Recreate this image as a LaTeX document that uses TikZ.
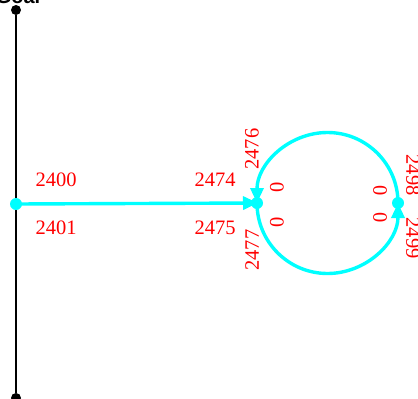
\documentclass[tikz,border=0pt]{standalone}
\usepackage{fontspec}
\setmainfont{Liberation Serif}
\newfontfamily\labsans{Liberation Sans}
\usetikzlibrary{arrows.meta}
\definecolor{aqua}{RGB}{0,255,255}
\begin{document}
\begin{tikzpicture}[x=1pt,y=-1pt,
  lab/.style={text=red,font=\fontsize{20.5}{20.5}\selectfont,inner sep=0pt},
  cyanline/.style={aqua,line width=3.4pt},
  tip/.style={-{Triangle[length=15pt,width=13pt]}},
  bdot/.style={circle,fill=black,inner sep=0pt,minimum size=10pt},
  cdot/.style={circle,fill=aqua,inner sep=0pt,minimum size=12pt}]
\useasboundingbox (0,0) rectangle (418,399);
\node[font=\labsans\bfseries\fontsize{20}{20}\selectfont,anchor=base] (title) at (18,3) {Goal};
\node[bdot] (top) at (16,10) {};
\node[bdot] (bot) at (16,398) {};
\draw[line width=1.4pt] (top) -- (bot);
\node[cdot] (src) at (16,204) {};
\coordinate (L) at (257,203);
\coordinate (R) at (398,203);
\draw[cyanline,tip,shorten >=-1pt] (src.center) -- (L);
\node[cdot] (ldot) at (L) {};
\node[cdot] (rdot) at (R) {};
\draw[cyanline,tip] (R) arc[start angle=0,end angle=-180,radius=70.5];
\draw[cyanline,tip] (L) arc[start angle=180,end angle=0,radius=70.5];
\node[lab] (l2400) at (56,180) {2400};
\node[lab] (l2401) at (56,228) {2401};
\node[lab] (l2474) at (215,180) {2474};
\node[lab] (l2475) at (215,228) {2475};
\node[lab,rotate=90] (l2476) at (252,149) {2476};
\node[lab,rotate=90] (l2477) at (252,250) {2477};
\node[lab,rotate=90] (z1) at (277,187) {0};
\node[lab,rotate=90] (z2) at (277,222) {0};
\node[lab,rotate=-90] (z3) at (380,191) {0};
\node[lab,rotate=-90] (z4) at (380,218) {0};
\node[lab,rotate=-90] (l2498) at (413,175) {2498};
\node[lab,rotate=-90] (l2499) at (413,238) {2499};
\end{tikzpicture}
\end{document}
